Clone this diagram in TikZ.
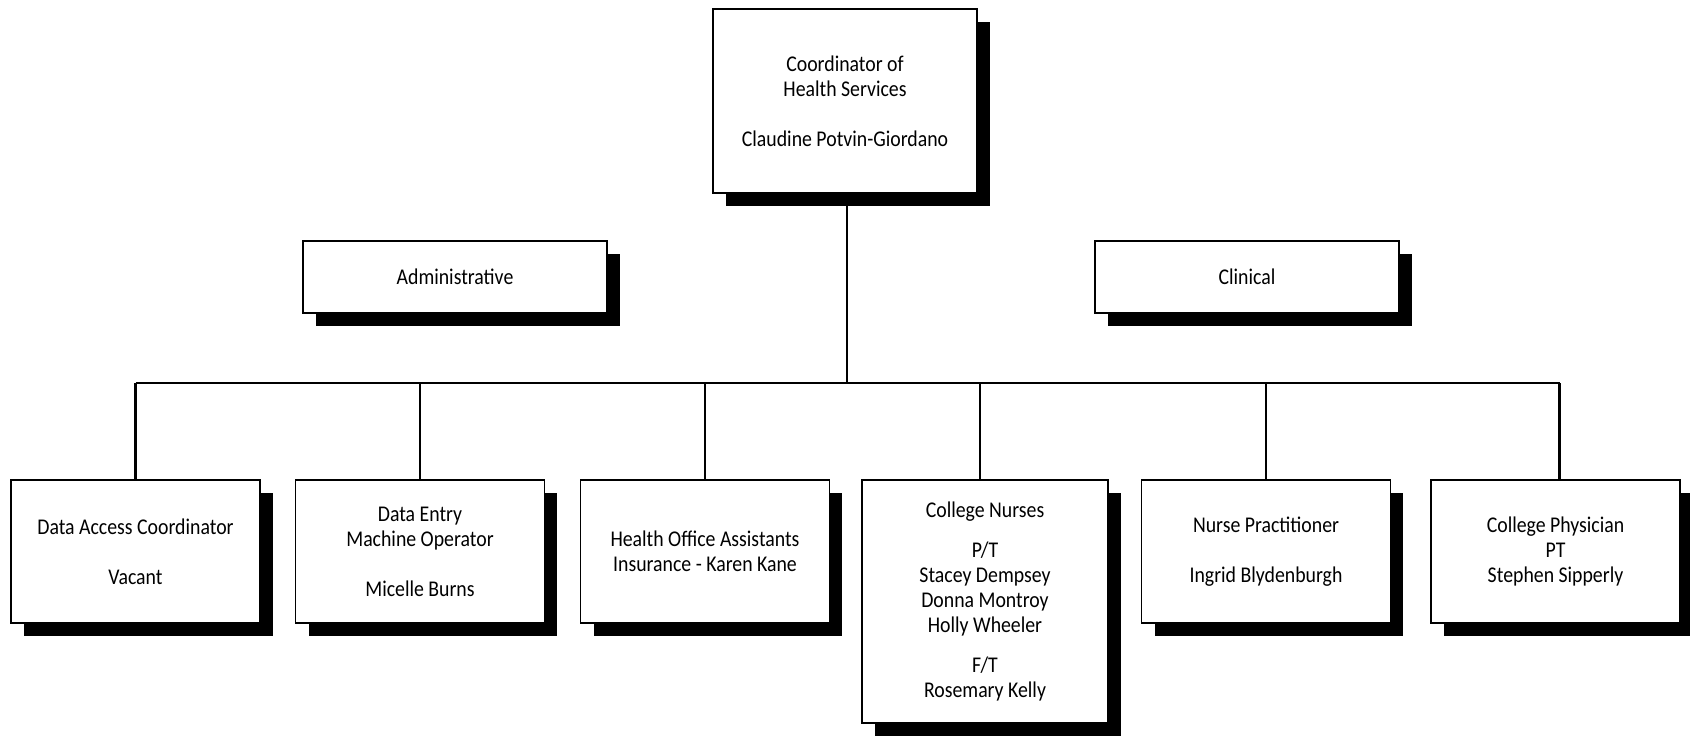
\documentclass[tikz,border=0pt]{standalone}
\usepackage{fontspec}
\setmainfont{Carlito}[FakeStretch=0.88]
\usetikzlibrary{shadows}

\begin{document}
\begin{tikzpicture}[
    x=0.02cm, y=-0.02cm,
    font=\fontsize{12.8}{14.2}\selectfont,
    box/.style={rectangle, draw=black, line width=0.9pt, fill=white, align=center,
        inner sep=2pt, drop shadow={shadow xshift=0.26cm, shadow yshift=-0.26cm, opacity=1, fill=black}},
    headbox/.style={box, minimum width=5.28cm, minimum height=3.68cm},
    groupbox/.style={box, minimum width=6.08cm, minimum height=1.44cm},
    staffbox/.style={box, minimum width=4.98cm, minimum height=2.86cm},
    link/.style={draw=black, line width=1.2pt}
]

% Canvas
\useasboundingbox[fill=white] (0,0) rectangle (1690,737);

% Nodes
\node[headbox] (head) at (845,101) {Coordinator of\\Health Services\\[14.2pt]Claudine Potvin-Giordano};

\node[groupbox] (admin) at (455,277) {Administrative};
\node[groupbox] (clinical) at (1247,277) {Clinical};

\node[staffbox] (access) at (135.5,551.5) {Data Access Coordinator\\[14.2pt]Vacant};
\node[staffbox] (entry) at (420,551.5) {Data Entry\\Machine Operator\\[14.2pt]Micelle Burns};
\node[staffbox] (office) at (705,551.5) {Health Office Assistants\\Insurance - Karen Kane};
\node[staffbox, minimum width=4.92cm, minimum height=4.86cm] (nurses) at (985,601.5)
    {College Nurses\\[8.5pt]P/T\\Stacey Dempsey\\Donna Montroy\\Holly Wheeler\\[8.5pt]F/T\\Rosemary Kelly};
\node[staffbox] (practitioner) at (1266,551.5) {Nurse Practitioner\\[14.2pt]Ingrid Blydenburgh};
\node[staffbox] (physician) at (1555.5,551.5) {College Physician\\PT\\Stephen Sipperly};

% Bus line
\coordinate (bus) at (847,383);
\draw[link] (head.south -| bus) -- (bus);
\draw[link] (access.north |- bus) -- ([xshift=0.08cm]physician.north |- bus);

% Drops to staff
\foreach \n/\dx in {access/0, entry/0, office/0, nurses/-0.1, practitioner/0, physician/0.08}
    \draw[link] ([xshift=\dx cm]\n.north) -- ([xshift=\dx cm]\n.north |- bus);

\end{tikzpicture}
\end{document}
